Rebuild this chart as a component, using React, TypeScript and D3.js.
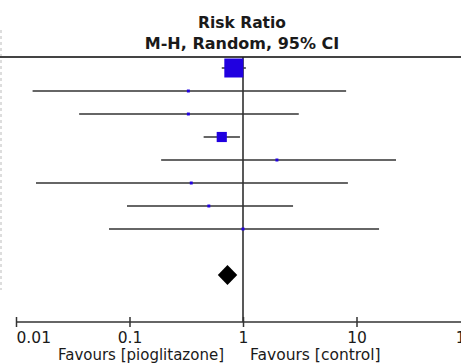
import { useEffect, useRef } from 'react';
import * as d3 from 'd3';

// risk ratios, one per study row (no study labels visible)
const rr = [0.83, 0.33, 0.33, 0.65, 1.99, 0.35, 0.5, 1.0];
const lower = [0.65, 0.014, 0.036, 0.45, 0.19, 0.015, 0.095, 0.066];
const upper = [1.06, 8.1, 3.1, 0.94, 22.3, 8.4, 2.76, 15.8];
const weight = [70, 1.7, 1.7, 20, 1.7, 1.7, 1.7, 1.7];
const pooled = { rr: 0.73, lower: 0.6, upper: 0.89 };
const ticks = [0.01, 0.1, 1, 10, 100];
const tickLabels = ['0.01', '0.1', '1', '10', '100'];

const W = 461;
const H = 363;
const font = '"DejaVu Sans", Verdana, sans-serif';

export default function App() {
    const svgRef = useRef(null);

    useEffect(() => {
        const svg = d3.select(svgRef.current);
        svg.selectAll('*').remove();

        const x = d3.scaleLog().domain([0.01, 100]).range([16, 470]);
        const y = d3.scaleLinear().domain([0, 9]).range([68, 275]);
        const size = d3.scaleSqrt().domain([0, 100]).range([0, 22.7]);
        const axisY = 322;
        const headerY = 57;

        // faint border of the cropped table on the left
        svg.append('line')
            .attr('x1', 1).attr('x2', 1)
            .attr('y1', 30).attr('y2', 290)
            .attr('stroke', '#bbb')
            .attr('stroke-dasharray', '3,3');

        // header
        svg.append('text')
            .attr('x', 242).attr('y', 28)
            .attr('text-anchor', 'middle')
            .attr('font-family', font).attr('font-weight', 'bold').attr('font-size', 15.5)
            .attr('fill', '#1a1a1a')
            .text('Risk Ratio');
        svg.append('text')
            .attr('x', 242).attr('y', 49)
            .attr('text-anchor', 'middle')
            .attr('font-family', font).attr('font-weight', 'bold').attr('font-size', 16)
            .attr('fill', '#1a1a1a')
            .text('M-H, Random, 95% CI');
        svg.append('line')
            .attr('x1', 0).attr('x2', W)
            .attr('y1', headerY).attr('y2', headerY)
            .attr('stroke', '#444').attr('stroke-width', 2);

        // line of no effect
        svg.append('line')
            .attr('x1', x(1)).attr('x2', x(1))
            .attr('y1', headerY).attr('y2', axisY)
            .attr('stroke', '#222').attr('stroke-width', 1.5);

        // study CIs and squares
        const rows = svg.append('g');
        rr.forEach((v, i) => {
            rows.append('line')
                .attr('x1', x(lower[i])).attr('x2', x(upper[i]))
                .attr('y1', y(i)).attr('y2', y(i))
                .attr('stroke', '#333').attr('stroke-width', 1.5);
            const s = size(weight[i]);
            rows.append('rect')
                .attr('x', x(v) - s / 2).attr('y', y(i) - s / 2)
                .attr('width', s).attr('height', s)
                .attr('fill', '#2000e0');
        });

        // pooled diamond
        const dy = y(9);
        svg.append('path')
            .attr('d', `M${x(pooled.lower)},${dy} L${x(pooled.rr)},${dy - 10} L${x(pooled.upper)},${dy} L${x(pooled.rr)},${dy + 10} Z`)
            .attr('fill', '#000');

        // x axis
        const g = svg.append('g').attr('transform', `translate(0,${axisY})`);
        g.call(
            d3.axisBottom(x)
                .tickValues(ticks)
                .tickFormat((d, i) => tickLabels[i])
                .tickSizeOuter(0)
                .tickSizeInner(5)
        );
        g.select('.domain').attr('stroke', '#333').attr('stroke-width', 1.5).attr('d', `M${x(0.01)},0H${W}`);
        g.selectAll('.tick line').attr('y1', -5).attr('y2', 5).attr('stroke', '#333').attr('stroke-width', 1.5);
        g.selectAll('.tick text')
            .attr('y', 21)
            .attr('dy', 0)
            .attr('font-family', font).attr('font-size', 15.5)
            .attr('fill', '#1a1a1a')
            .attr('text-anchor', (d, i) => (i === 0 ? 'start' : 'middle'));

        svg.append('text')
            .attr('x', 224).attr('y', 360)
            .attr('text-anchor', 'end')
            .attr('font-family', font).attr('font-size', 15)
            .attr('fill', '#1a1a1a')
            .text('Favours [pioglitazone]');
        svg.append('text')
            .attr('x', 250).attr('y', 360)
            .attr('font-family', font).attr('font-size', 15.5)
            .attr('fill', '#1a1a1a')
            .text('Favours [control]');
    }, []);

    return (
        <svg
            ref={svgRef}
            width={W}
            height={H}
            style={{ position: 'absolute', left: 0, top: 0, background: '#fff' }}
        />
    );
}
